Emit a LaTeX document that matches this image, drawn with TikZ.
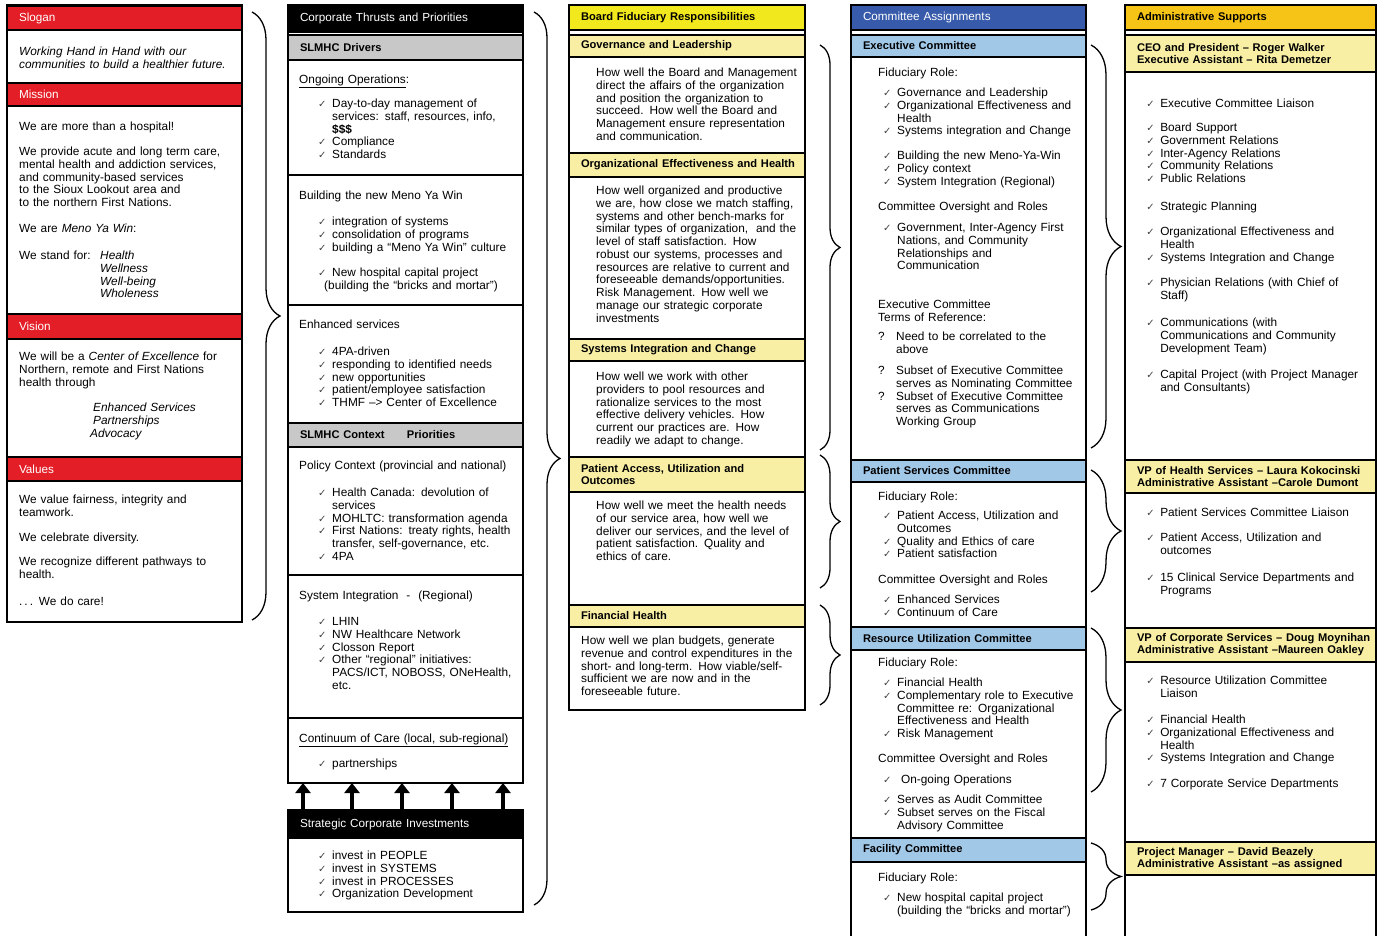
\documentclass[tikz,border=0pt]{standalone}
\usepackage{fontspec}
\setmainfont{Liberation Sans}
\newfontfamily\dingfont{DejaVu Sans}
\usepackage{xcolor}
\usetikzlibrary{arrows.meta,decorations.pathreplacing}

\newlength\pxu
\setlength\pxu{0.03cm}
\definecolor{slred}{RGB}{228,30,38}
\definecolor{slgrey}{RGB}{200,200,200}
\definecolor{bdyellow}{RGB}{242,232,30}
\definecolor{paleyellow}{RGB}{248,239,165}
\definecolor{cmblue}{RGB}{55,90,170}
\definecolor{paleblue}{RGB}{162,200,232}
\definecolor{admgold}{RGB}{245,196,22}

\newcommand\bodyfont{\fontsize{10.1}{10.9}\selectfont}
\newcommand\barfont{\fontsize{9.5}{10.2}\selectfont\bfseries}
\newcommand\topfont{\fontsize{10}{11}\selectfont}
\newcommand\bul{\makebox[14\pxu][l]{\dingfont\fontsize{8.5}{8.5}\selectfont\color{black!75}✓}}
\newcommand\nob{\hspace*{14\pxu}}
\newcommand\qbul{\makebox[18\pxu][l]{?}}
\newcommand\qnob{\hspace*{18\pxu}}

\begin{document}
\begin{tikzpicture}[x=0.03cm, y=-0.03cm,
  frame/.style={draw, line width=1.4pt, anchor=north west, inner sep=0pt, outer sep=0pt},
  bar/.style={frame, inner xsep=12\pxu, inner ysep=0pt, text width=#1, align=left, font=\barfont},
  topbar/.style={bar=#1, font=\topfont, text=white},
  txt/.style={anchor=base west, inner sep=0pt, yshift=-3.5\pxu, text width=260\pxu, align=left, font=\bodyfont},
  sep/.style={line width=1.4pt},
  brc/.style={decorate, decoration={brace, amplitude=#1}, line width=1.1pt},
  fatarr/.style={line width=0.12cm, -{Triangle[length=0.3cm, width=0.45cm]}}]
\useasboundingbox (0,0) rectangle (1378,936);

% mission, vision, values
\node[frame, minimum width=235\pxu, minimum height=617\pxu] (colA) at (7,5) {};
\node[topbar=211\pxu, fill=slred, minimum height=24\pxu] (slogan) at (7,6) {Slogan};
\node[txt, font=\bodyfont\itshape] (sloganTxt) at (19,52) {Working Hand in Hand with our\\communities to build a healthier future.};
\node[topbar=211\pxu, fill=slred, minimum height=23\pxu] (mission) at (7,83) {Mission};
\node[txt] (mis1) at (19,127) {We are more than a hospital!};
\node[txt] (mis2) at (19,152) {We provide acute and long term care,\\mental health and addiction services,\\and community-based services\\to the Sioux Lookout area and\\to the northern First Nations.};
\node[txt] (mis3) at (19,229) {We are \textit{Meno Ya Win}:};
\node[txt] (mis4) at (19,256) {We stand for:};
\node[txt, font=\bodyfont\itshape] (mis5) at (100,256) {Health\\Wellness\\Well-being\\Wholeness};
\node[topbar=211\pxu, fill=slred, minimum height=25\pxu] (vision) at (7,314) {Vision};
\node[txt] (vis1) at (19,357) {We will be a \textit{Center of Excellence} for\\Northern, remote and First Nations\\health through};
\node[txt, font=\bodyfont\itshape] (vis2) at (93,408) {Enhanced Services\\Partnerships\\\hspace*{-3\pxu}Advocacy};
\node[topbar=211\pxu, fill=slred, minimum height=24\pxu] (values) at (7,457) {Values};
\node[txt] (val1) at (19,500) {We value fairness, integrity and\\teamwork.};
\node[txt] (val2) at (19,538) {We celebrate diversity.};
\node[txt] (val3) at (19,562) {We recognize different pathways to\\health.};
\node[txt] (val4) at (19,602) {.\,.\,. We do care!};
\draw[brc=28\pxu] (252,12) -- (252,620);

% corporate thrusts
\node[frame, minimum width=235\pxu, minimum height=778\pxu] (thrusts) at (288,5) {};
\node[topbar=211\pxu, fill=black, minimum height=27\pxu] (thrustsHdr) at (288,5) {Corporate Thrusts and Priorities};
\node[bar=211\pxu, fill=slgrey, minimum height=25\pxu] (drivers) at (288,35) {SLMHC Drivers};
\node[txt] (ops1) at (299,80) {\underline{Ongoing Operations}:};
\node[txt] (ops2) at (318,104) {\bul Day-to-day management of\\\nob services: staff, resources, info,\\\nob\textbf{\$\$\$}\\\bul Compliance\\\bul Standards};
\draw[sep] (288,175) -- (523,175);
\node[txt] (mvw1) at (299,196) {Building the new Meno Ya Win};
\node[txt] (mvw2) at (318,222) {\bul integration of systems\\\bul consolidation of programs\\\bul building a “Meno Ya Win” culture};
\node[txt] (mvw3) at (318,273) {\bul New hospital capital project\\\hspace*{6\pxu}(building the “bricks and mortar”)};
\draw[sep] (288,305) -- (523,305);
\node[txt] (enh1) at (299,325) {Enhanced services};
\node[txt] (enh2) at (318,352) {\bul 4PA-driven\\\bul responding to identified needs\\\bul new opportunities\\\bul patient/employee satisfaction\\\bul THMF --> Center of Excellence};
\node[bar=211\pxu, fill=slgrey, minimum height=24\pxu] (context) at (288,423) {SLMHC Context\hspace{2em}Priorities};
\node[txt] (pol1) at (299,466) {Policy Context (provincial and national)};
\node[txt] (pol2) at (318,493) {\bul Health Canada: devolution of\\\nob services\\\bul MOHLTC: transformation agenda\\\bul First Nations: treaty rights, health\\\nob transfer, self-governance, etc.\\\bul 4PA};
\draw[sep] (288,575) -- (523,575);
\node[txt] (reg1) at (299,596) {System Integration\ \ -\ \ (Regional)};
\node[txt] (reg2) at (318,622) {\bul LHIN\\\bul NW Healthcare Network\\\bul Closson Report\\\bul Other “regional” initiatives:\\\nob PACS/ICT, NOBOSS, ONeHealth,\\\nob etc.};
\draw[sep] (288,718) -- (523,718);
\node[txt] (cont1) at (299,739) {\underline{Continuum of Care (local, sub-regional)}};
\node[txt] (cont2) at (318,764) {\bul partnerships};
\node[frame, minimum width=235\pxu, minimum height=102\pxu] (invBox) at (288,810) {};
\node[topbar=211\pxu, fill=black, minimum height=28\pxu] (inv) at (288,810) {Strategic Corporate Investments};
\node[txt] (inv1) at (318,856) {\bul invest in PEOPLE\\\bul invest in SYSTEMS\\\bul invest in PROCESSES\\\bul Organization Development};
\foreach \ax in {303,352,402,452,503}
  \draw[fatarr] (\ax,0 |- inv.north) -- (\ax,0 |- thrusts.south);
\draw[brc=26\pxu] (534,12) -- (534,905);

% board fiduciary responsibilities
\node[frame, minimum width=236\pxu, minimum height=705\pxu] (board) at (569,5) {};
\node[bar=212\pxu, fill=bdyellow, minimum height=25\pxu] (boardHdr) at (569,5) {Board Fiduciary Responsibilities};
\node[bar=212\pxu, fill=paleyellow, minimum height=22\pxu] (govHdr) at (569,35) {Governance and Leadership};
\node[txt] (gov) at (596,73) {How well the Board and Management\\direct the affairs of the organization\\and position the organization to\\succeed. How well the Board and\\Management ensure representation\\and communication.};
\node[bar=212\pxu, fill=paleyellow, minimum height=24\pxu] (oeHdr) at (569,153) {\mbox{Organizational Effectiveness and Health}};
\node[txt] (oe) at (596,191) {How well organized and productive\\we are, how close we match staffing,\\systems and other bench-marks for\\similar types of organization,\ \ and the\\level of staff satisfaction. How\\robust our systems, processes and\\resources are relative to current and\\foreseeable demands/opportunities.\\Risk Management. How well we\\manage our strategic corporate\\investments};
\node[bar=212\pxu, fill=paleyellow, minimum height=22\pxu] (sicHdr) at (569,339) {Systems Integration and Change};
\node[txt] (sic) at (596,377) {How well we work with other\\providers to pool resources and\\rationalize services to the most\\effective delivery vehicles. How\\current our practices are. How\\readily we adapt to change.};
\node[bar=212\pxu, fill=paleyellow, minimum height=35\pxu] (pauHdr) at (569,457) {Patient Access, Utilization and\\Outcomes};
\node[txt] (pau) at (596,506) {How well we meet the health needs\\of our service area, how well we\\deliver our services, and the level of\\patient satisfaction. Quality and\\ethics of care.};
\node[bar=212\pxu, fill=paleyellow, minimum height=22\pxu] (finHdr) at (569,605) {Financial Health};
\node[txt] (fin) at (581,641) {How well we plan budgets, generate\\revenue and control expenditures in the\\short- and long-term. How viable/self-\\sufficient we are now and in the\\foreseeable future.};
\draw[brc=20\pxu] (820,45) -- (820,450);
\draw[brc=20\pxu] (820,455) -- (820,588);
\draw[brc=20\pxu] (820,605) -- (820,705);

% committee assignments
\node[frame, minimum width=235\pxu, minimum height=940\pxu] (cmte) at (851,5) {};
\node[topbar=211\pxu, fill=cmblue, minimum height=25\pxu] (cmteHdr) at (851,5) {Committee Assignments};
\node[bar=211\pxu, fill=paleblue, minimum height=22\pxu] (execHdr) at (851,35) {Executive Committee};
\node[txt] (ex1) at (878,73) {Fiduciary Role:};
\node[txt] (ex2) at (883,93) {\bul Governance and Leadership\\\bul Organizational Effectiveness and\\\nob Health\\\bul Systems integration and Change};
\node[txt] (ex3) at (883,156) {\bul Building the new Meno-Ya-Win\\\bul Policy context\\\bul System Integration (Regional)};
\node[txt] (ex4) at (878,207) {Committee Oversight and Roles};
\node[txt] (ex5) at (883,228) {\bul Government, Inter-Agency First\\\nob Nations, and Community\\\nob Relationships and\\\nob Communication};
\node[txt] (ex6) at (878,305) {Executive Committee\\Terms of Reference:};
\node[txt] (ex7) at (878,337) {\qbul Need to be correlated to the\\\qnob above};
\node[txt] (ex8) at (878,371) {\qbul Subset of Executive Committee\\\qnob serves as Nominating Committee\\\qbul Subset of Executive Committee\\\qnob serves as Communications\\\qnob Working Group};
\node[bar=211\pxu, fill=paleblue, minimum height=22\pxu] (psHdr) at (851,460) {Patient Services Committee};
\node[txt] (ps1) at (878,497) {Fiduciary Role:};
\node[txt] (ps2) at (883,516) {\bul Patient Access, Utilization and\\\nob Outcomes\\\bul Quality and Ethics of care\\\bul Patient satisfaction};
\node[txt] (ps3) at (878,580) {Committee Oversight and Roles};
\node[txt] (ps4) at (883,600) {\bul Enhanced Services\\\bul Continuum of Care};
\node[bar=211\pxu, fill=paleblue, minimum height=23\pxu] (ruHdr) at (851,627) {Resource Utilization Committee};
\node[txt] (ru1) at (878,663) {Fiduciary Role:};
\node[txt] (ru2) at (883,683) {\bul Financial Health\\\bul Complementary role to Executive\\\nob Committee re: Organizational\\\nob Effectiveness and Health\\\bul Risk Management};
\node[txt] (ru3) at (878,759) {Committee Oversight and Roles};
\node[txt] (ru4) at (883,780) {\bul\ On-going Operations};
\node[txt] (ru5) at (883,800) {\bul Serves as Audit Committee\\\bul Subset serves on the Fiscal\\\nob Advisory Committee};
\node[bar=211\pxu, fill=paleblue, minimum height=24\pxu] (facHdr) at (851,838) {Facility Committee};
\node[txt] (fc1) at (878,878) {Fiduciary Role:};
\node[txt] (fc2) at (883,898) {\bul New hospital capital project\\\nob (building the “bricks and mortar”)};
\draw[brc=30\pxu] (1091,45) -- (1091,448);
\draw[brc=30\pxu] (1091,470) -- (1091,592);
\draw[brc=30\pxu] (1091,628) -- (1091,792);
\draw[brc=30\pxu] (1091,843) -- (1091,910);

% administrative supports
\node[frame, minimum width=251\pxu, minimum height=940\pxu] (admin) at (1125,5) {};
\node[bar=227\pxu, fill=admgold, minimum height=25\pxu] (adminHdr) at (1125,5) {Administrative Supports};
\node[bar=227\pxu, fill=paleyellow, minimum height=37\pxu] (ceoHdr) at (1125,35) {CEO and President -- Roger Walker\\Executive Assistant -- Rita Demetzer};
\node[txt] (ceo1) at (1146,104) {\bul Executive Committee Liaison};
\node[txt] (ceo2) at (1146,128) {\bul Board Support\\\bul Government Relations\\\bul Inter-Agency Relations\\\bul Community Relations\\\bul Public Relations};
\node[txt] (ceo3) at (1146,207) {\bul Strategic Planning};
\node[txt] (ceo4) at (1146,232) {\bul Organizational Effectiveness and\\\nob Health\\\bul Systems Integration and Change};
\node[txt] (ceo5) at (1146,283) {\bul Physician Relations (with Chief of\\\nob Staff)};
\node[txt] (ceo6) at (1146,323) {\bul Communications (with\\\nob Communications and Community\\\nob Development Team)};
\node[txt] (ceo7) at (1146,375) {\bul Capital Project (with Project Manager\\\nob and Consultants)};
\node[bar=227\pxu, fill=paleyellow, minimum height=33\pxu] (vphHdr) at (1125,460) {\mbox{VP of Health Services -- Laura Kokocinski}\\\mbox{Administrative Assistant --Carole Dumont}};
\node[txt] (vph1) at (1146,513) {\bul Patient Services Committee Liaison};
\node[txt] (vph2) at (1146,538) {\bul Patient Access, Utilization and\\\nob outcomes};
\node[txt] (vph3) at (1146,578) {\bul 15 Clinical Service Departments and\\\nob Programs};
\node[bar=227\pxu, fill=paleyellow, minimum height=34\pxu] (vpcHdr) at (1125,628) {\mbox{VP of Corporate Services -- Doug Moynihan}\\\mbox{Administrative Assistant --Maureen Oakley}};
\node[txt] (vpc1) at (1146,681) {\bul Resource Utilization Committee\\\nob Liaison};
\node[txt] (vpc2) at (1146,720) {\bul Financial Health\\\bul Organizational Effectiveness and\\\nob Health\\\bul Systems Integration and Change};
\node[txt] (vpc3) at (1146,784) {\bul 7 Corporate Service Departments};
\node[bar=227\pxu, fill=paleyellow, minimum height=33\pxu] (pmHdr) at (1125,842) {Project Manager -- David Beazely\\Administrative Assistant --as assigned};
\end{tikzpicture}
\end{document}
